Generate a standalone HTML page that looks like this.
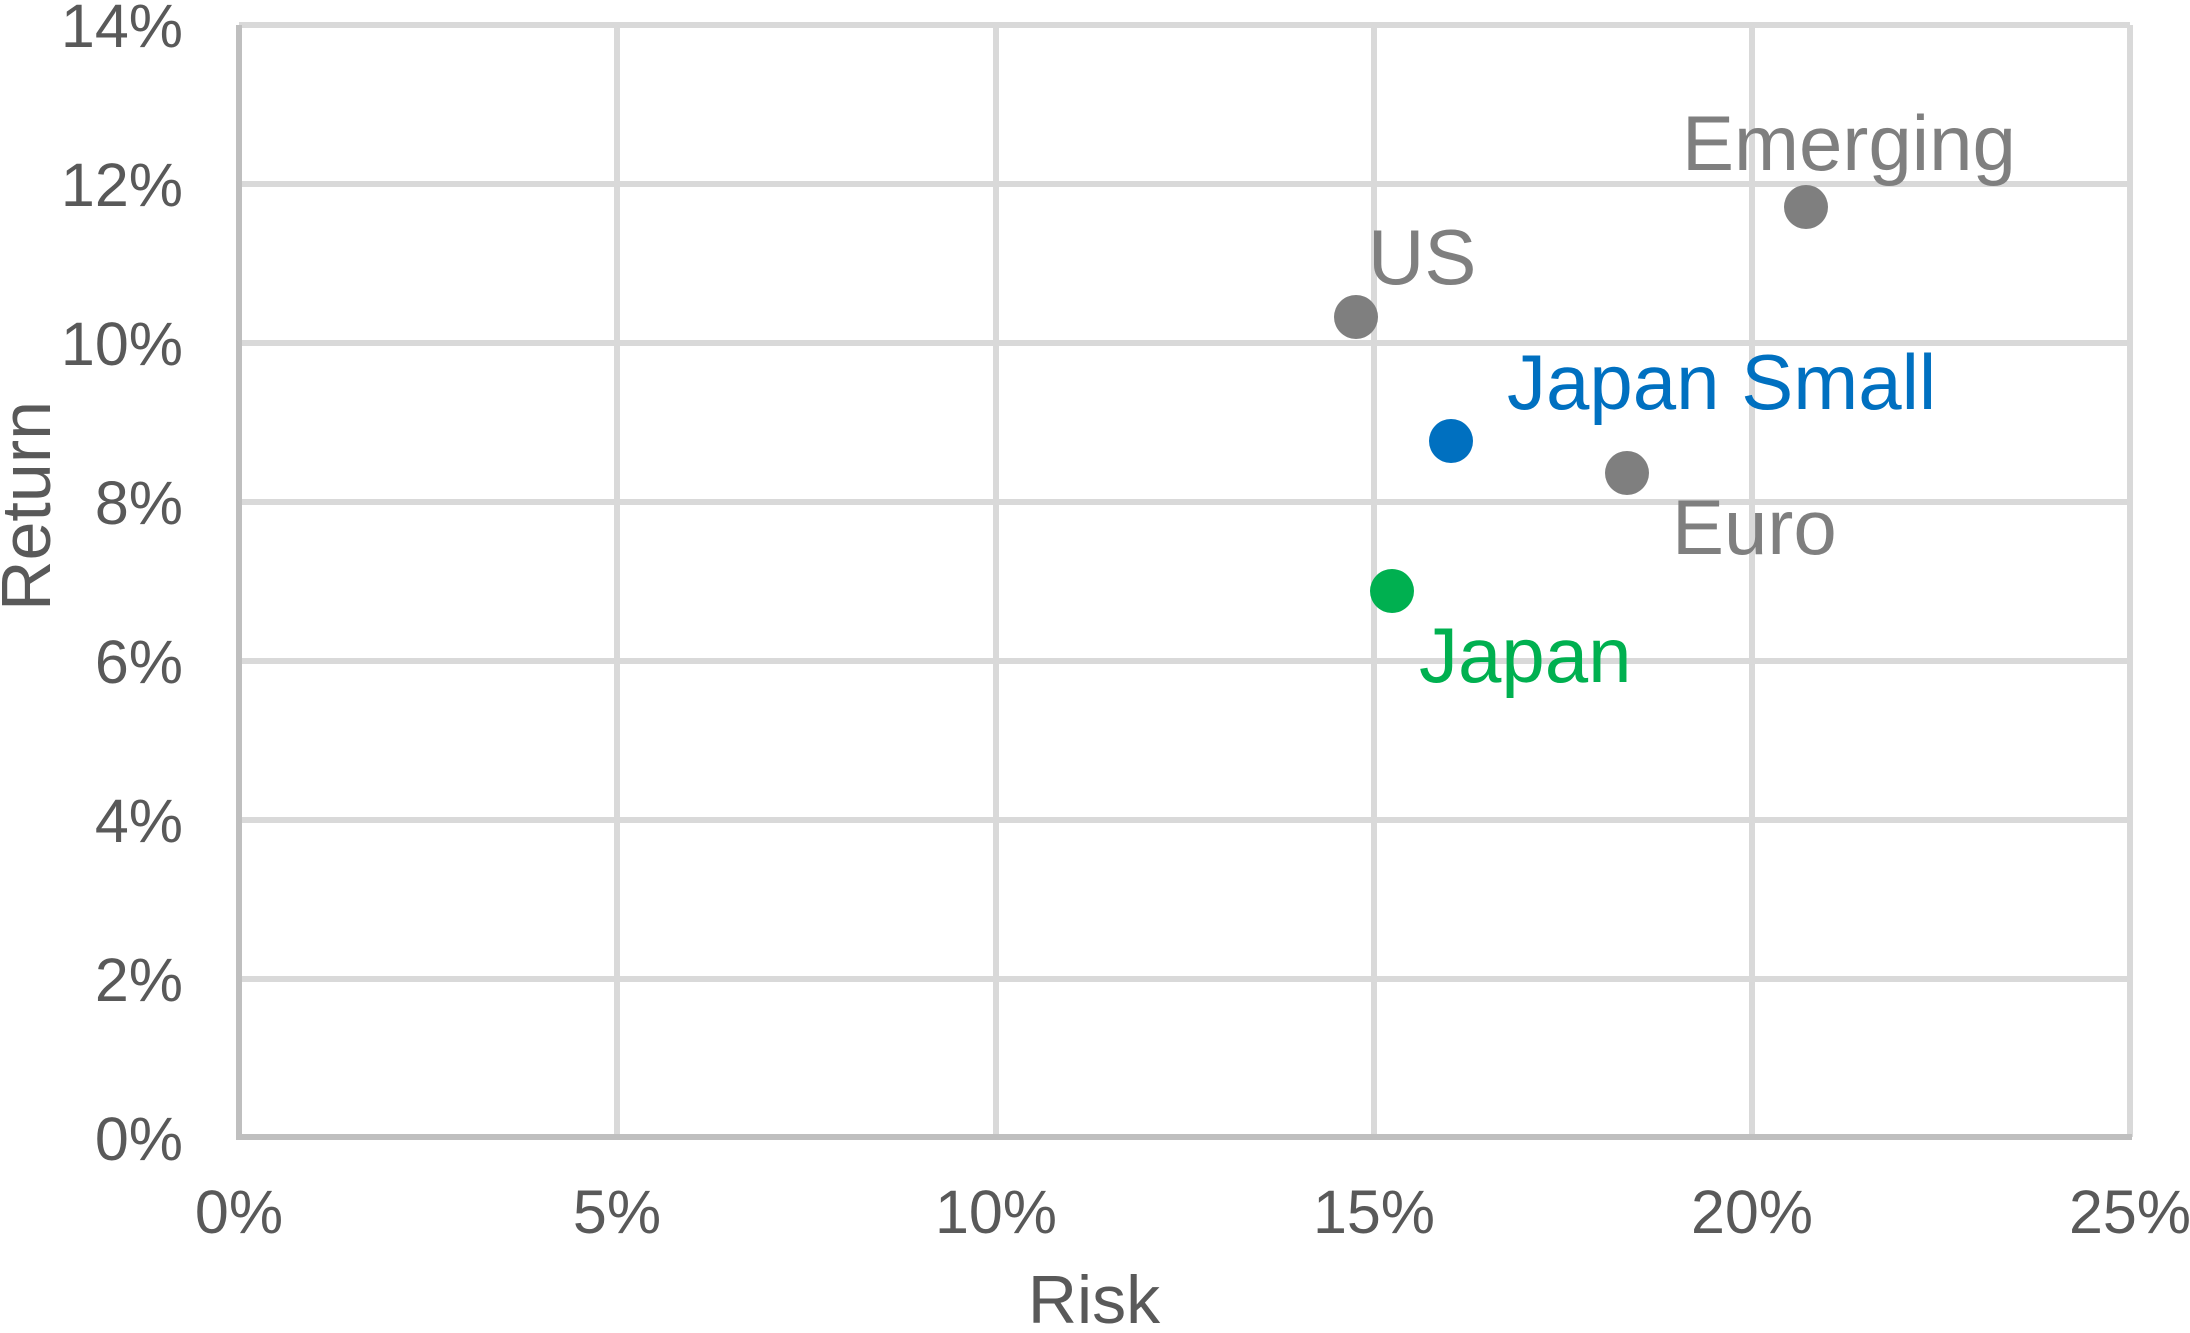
<!DOCTYPE html>
<html><head><meta charset="utf-8"><style>html,body{margin:0;padding:0;background:#fff}</style></head>
<body>
<svg width="2190" height="1328" viewBox="0 0 2190 1328" xmlns="http://www.w3.org/2000/svg" font-family="Liberation Sans, Arial, sans-serif">
<rect width="2190" height="1328" fill="#fff"/>
<g stroke="#d9d9d9" stroke-width="6">
<line x1="239" y1="25" x2="2130" y2="25"/>
<line x1="239" y1="184" x2="2130" y2="184"/>
<line x1="239" y1="343" x2="2130" y2="343"/>
<line x1="239" y1="502" x2="2130" y2="502"/>
<line x1="239" y1="661" x2="2130" y2="661"/>
<line x1="239" y1="820" x2="2130" y2="820"/>
<line x1="239" y1="979" x2="2130" y2="979"/>
<line x1="617" y1="25" x2="617" y2="1137"/>
<line x1="996" y1="25" x2="996" y2="1137"/>
<line x1="1374" y1="25" x2="1374" y2="1137"/>
<line x1="1752" y1="25" x2="1752" y2="1137"/>
<line x1="2130" y1="25" x2="2130" y2="1137"/>
</g>
<g stroke="#bfbfbf" stroke-width="6">
<line x1="239" y1="25" x2="239" y2="1140"/>
<line x1="236" y1="1137" x2="2132" y2="1137"/>
</g>
<g fill="#595959" font-size="61" text-anchor="end">
<text x="183" y="47">14%</text>
<text x="183" y="206">12%</text>
<text x="183" y="365">10%</text>
<text x="183" y="524">8%</text>
<text x="183" y="683">6%</text>
<text x="183" y="842">4%</text>
<text x="183" y="1001">2%</text>
<text x="183" y="1160">0%</text>
</g>
<g fill="#595959" font-size="61" text-anchor="middle">
<text x="239" y="1233">0%</text>
<text x="617" y="1233">5%</text>
<text x="996" y="1233">10%</text>
<text x="1374" y="1233">15%</text>
<text x="1752" y="1233">20%</text>
<text x="2130" y="1233">25%</text>
<text x="1094" y="1323" font-size="68">Risk</text>
<text transform="translate(50,506) rotate(-90)" font-size="70">Return</text>
</g>
<circle cx="1356" cy="317" r="22" fill="#7f7f7f"/>
<circle cx="1806" cy="207" r="22" fill="#7f7f7f"/>
<circle cx="1451" cy="441" r="22" fill="#0070c0"/>
<circle cx="1627" cy="473" r="22" fill="#7f7f7f"/>
<circle cx="1392" cy="591" r="22" fill="#00b050"/>
<g font-size="78">
<text x="1368" y="284" fill="#7f7f7f">US</text>
<text x="1682" y="170" fill="#7f7f7f">Emerging</text>
<text x="1507" y="409" fill="#0070c0">Japan Small</text>
<text x="1672" y="554" fill="#7f7f7f">Euro</text>
<text x="1419" y="682" fill="#00b050">Japan</text>
</g>
</svg>
</body></html>
